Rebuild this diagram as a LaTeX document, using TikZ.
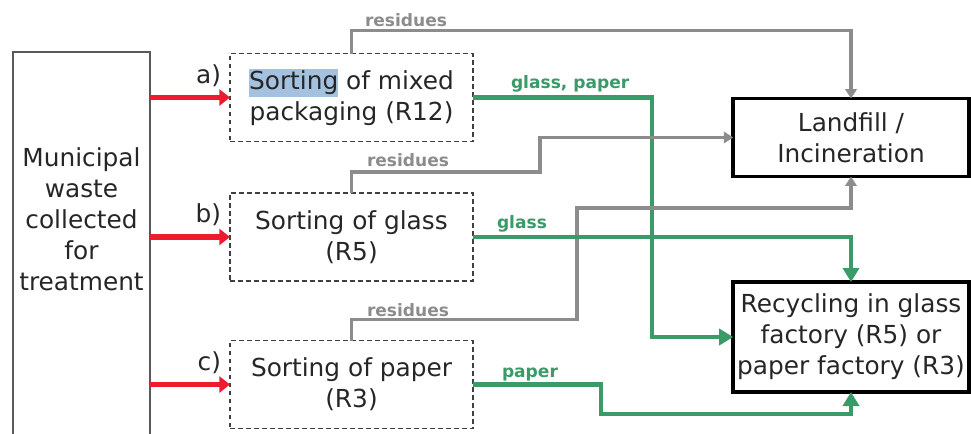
\documentclass[tikz,border=0pt]{standalone}
\usepackage{fontspec}
\setmainfont{DejaVu Sans}
\usetikzlibrary{arrows.meta}
\definecolor{feedred}{HTML}{EC1C2E}
\definecolor{recgreen}{HTML}{3A9A68}
\definecolor{resgray}{HTML}{8C8C8C}
\definecolor{hilite}{HTML}{A4C2E0}
\definecolor{boxline}{HTML}{404040}
\begin{document}
\begin{tikzpicture}[x=0.75pt,y=-0.75pt,
  every node/.style={inner sep=0pt, outer sep=0pt},
  maintext/.style={font=\fontsize{18.6}{23.25}\selectfont, align=center, text=black!85},
  stepbox/.style={maintext, draw=boxline, line width=1.2pt, dash pattern=on 3.6pt off 2.4pt,
    minimum width=182.25pt, minimum height=66pt},
  sinkbox/.style={maintext, draw=black, line width=2.8pt, minimum width=176.7pt},
  tag/.style={maintext, anchor=base east},
  flowlabel/.style={font=\fontsize{12.8}{14}\bfseries\selectfont, anchor=base west},
  feed/.style={draw=feedred, line width=3.8pt, -{Triangle[length=8pt,width=12pt]}},
  residue/.style={draw=resgray, line width=2.4pt, -{Triangle[length=7pt,width=8.5pt]}},
  product/.style={draw=recgreen, line width=3.3pt, -{Triangle[length=10.5pt,width=12pt]}}
]
\useasboundingbox (0,0) rectangle (971,433);

% source column (runs off the lower edge)
\node[draw=black!65, line width=1.2pt, minimum width=102.75pt, minimum height=300pt, anchor=north]
  (mw) at (81.5,52) {};
\node[maintext] (mwtext) at (81.5,219) {Municipal\\waste\\collected\\for\\treatment};

% sorting steps
\node[stepbox] (a) at (351.5,97.5)
  {{\setlength\fboxsep{0pt}\colorbox{hilite}{\rule[-6pt]{0pt}{21pt}Sorting}} of mixed\\packaging (R12)};
\node[stepbox] (b) at (351.5,237) {Sorting of glass\\(R5)};
\node[stepbox] (c) at (351.5,384.5) {Sorting of paper\\(R3)};

\node[tag] (ta) at (221,83) {a)};
\node[tag] (tb) at (221,222) {b)};
\node[tag] (tc) at (221,370) {c)};

% destinations
\node[sinkbox, minimum height=58.5pt] (lf) at (851,137.5) {Landfill /\\Incineration};
\node[sinkbox, minimum height=82.5pt] (rc) at (851,337) {Recycling in glass\\factory (R5) or\\paper factory (R3)};

% recovered fractions and residues
\draw[product] (a.east) -| (652,337) -- (rc.west);
\draw[residue] (a.north) -- ++(0,-23) -| (lf.north);
\draw[residue] (b.north) -- ++(0,-21) -| (540,137.5) -- (lf.west);
\draw[residue] (c.north) -- ++(0,-21) -| (577,208) -| (lf.south);
\draw[product] (b.east) -| (rc.north);
\draw[product] (c.east) -| (601,414) -| (rc.south);

% incoming waste
\draw[feed] (a.west -| mw.east) -- (a.west);
\draw[feed] (b.west -| mw.east) -- (b.west);
\draw[feed] (c.west -| mw.east) -- (c.west);

% flow labels
\node[flowlabel, text=resgray] (ra) at (365,26) {residues};
\node[flowlabel, text=resgray] (rb) at (367,166) {residues};
\node[flowlabel, text=resgray] (rcl) at (367,316) {residues};
\node[flowlabel, text=recgreen] (ga) at (511,88) {glass, paper};
\node[flowlabel, text=recgreen] (gb) at (497,228) {glass};
\node[flowlabel, text=recgreen] (gc) at (502,377) {paper};
\end{tikzpicture}
\end{document}
